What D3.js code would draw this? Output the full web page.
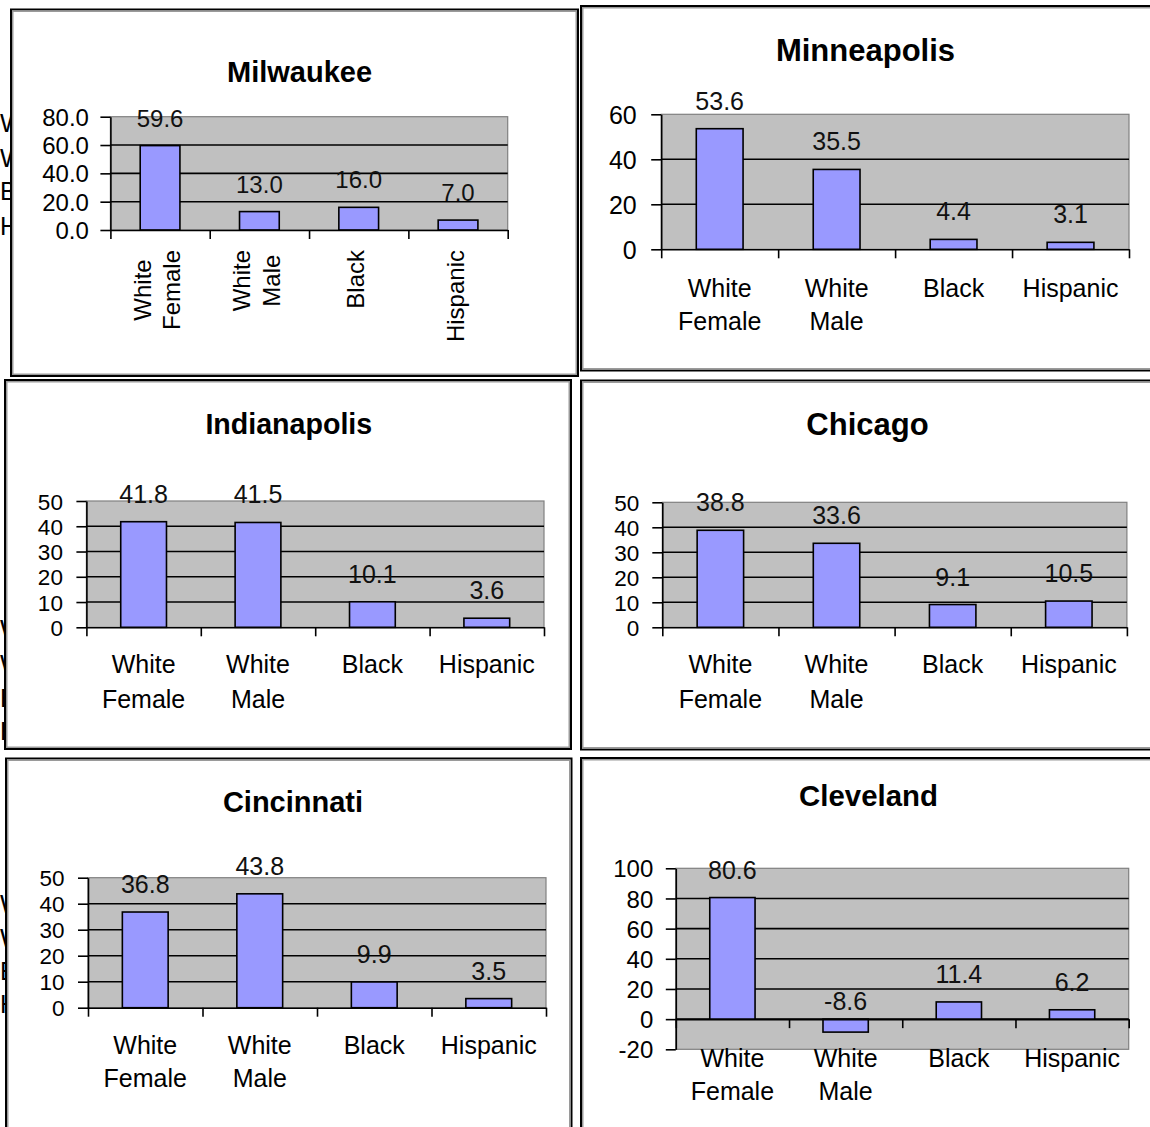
<!DOCTYPE html>
<html><head><meta charset="utf-8">
<script src="https://cdn.jsdelivr.net/npm/d3@7"></script>
<style>
body{margin:0;background:#fff;}
svg{display:block;font-family:Arial,"Liberation Sans",sans-serif;}
</style></head><body>
<svg id="chart" width="1150" height="1127"></svg>
<script>
// ---------------- data ----------------
const cities = ["Milwaukee","Minneapolis","Indianapolis","Chicago","Cincinnati","Cleveland"];
const categories = ["White Female","White Male","Black","Hispanic"];

const milwaukeeValues    = [59.6, 13.0, 16.0, 7.0];
const minneapolisValues  = [53.6, 35.5, 4.4, 3.1];
const indianapolisValues = [41.8, 41.5, 10.1, 3.6];
const chicagoValues      = [38.8, 33.6, 9.1, 10.5];
const cincinnatiValues   = [36.8, 43.8, 9.9, 3.5];
const clevelandValues    = [80.6, -8.6, 11.4, 6.2];

const milwaukeeTicks    = [0, 20, 40, 60, 80];
const minneapolisTicks  = [0, 20, 40, 60];
const indianapolisTicks = [0, 10, 20, 30, 40, 50];
const chicagoTicks      = [0, 10, 20, 30, 40, 50];
const cincinnatiTicks   = [0, 10, 20, 30, 40, 50];
const clevelandTicks    = [-20, 0, 20, 40, 60, 80, 100];
const tickDecimals      = [1, 0, 0, 0, 0, 0];

const valueSets = [milwaukeeValues, minneapolisValues, indianapolisValues, chicagoValues, cincinnatiValues, clevelandValues];
const tickSets  = [milwaukeeTicks, minneapolisTicks, indianapolisTicks, chicagoTicks, cincinnatiTicks, clevelandTicks];

// ---------------- layout (positions / sizes) ----------------
const layout = [
  {frame:[10,8.5,579,377],   plot:[110.4,116.7,507.7,230],  title:[299.5,81.7,29], font:24, tickFont:24, tickPad:11.5, rotate:true, rotTop:250, lineH:29.5},
  {frame:[580,5,1156,371.5], plot:[661.2,114.3,1129,249.3], title:[865.5,60.7,31], font:25, tickFont:25, tickPad:14.5, labelBase:297,  lineH:33.3},
  {frame:[4,379,572,750],    plot:[86.4,501,544,627.3],     title:[288.8,434.3,28.6], font:25, tickFont:22.5, tickPad:13.5, labelBase:673,  lineH:34.5},
  {frame:[580,379.5,1156,750.5], plot:[662.3,502.3,1126.9,627.3], title:[867.5,435,31], font:25, tickFont:22.5, tickPad:13, labelBase:673, lineH:35},
  {frame:[5,757.5,572.5,1136], plot:[88,877.7,546,1007.7],  title:[293,811.7,29], font:25, tickFont:22.5, tickPad:13.5, labelBase:1054, lineH:33.3},
  {frame:[580,757,1156,1136],  plot:[675.8,868.3,1128.7,1049.3], title:[868.5,806,29.4], font:25, tickFont:24, tickPad:12.5, labelBase:1066.7, lineH:33.3}
];
// partially hidden table text behind the left-hand panels (only first glyph peeks out)
const hiddenRowBaselines = [[132,167,200,235],[638,673,707,740],[913,947,980,1013]];

const svg = d3.select("#chart");
const fmt = dec => v => v.toFixed(dec);

hiddenRowBaselines.forEach(ys => {
  svg.append("g").selectAll("text").data(categories).enter().append("text")
    .attr("x", 0).attr("y", (d,i) => ys[i]).attr("font-size", 25).attr("fill", "#000")
    .text(d => d.charAt(0));
});

layout.forEach((L, k) => {
  const g = svg.append("g");
  const [fx0, fy0, fx1, fy1] = L.frame;
  g.append("rect").attr("x", fx0 + 1).attr("y", fy0 + 1)
    .attr("width", fx1 - fx0 - 2).attr("height", fy1 - fy0 - 2)
    .attr("fill", "#fff").attr("stroke", "#000").attr("stroke-width", 2);
  g.append("rect").attr("x", fx0 + 2.75).attr("y", fy0 + 2.75)
    .attr("width", fx1 - fx0 - 5.5).attr("height", fy1 - fy0 - 5.5)
    .attr("fill", "none").attr("stroke", "#9a9a9a").attr("stroke-width", 1.5);

  const [px0, py0, px1, py1] = L.plot;
  const ticks = tickSets[k], vals = valueSets[k];
  const y = d3.scaleLinear().domain(d3.extent(ticks)).range([py1, py0]);
  const xb = d3.scaleBand().domain(categories).range([px0, px1]);
  const xbar = d3.scaleBand().domain(categories).range([px0, px1]).paddingInner(0.6).paddingOuter(0.3);
  const xi = d3.scaleLinear().domain([0, categories.length]).range([px0, px1]);

  // plot area
  g.append("rect").attr("x", px0).attr("y", py0).attr("width", px1 - px0).attr("height", py1 - py0)
    .attr("fill", "#c0c0c0").attr("stroke", "#808080").attr("stroke-width", 1.2);

  // gridlines
  g.append("g").selectAll("line")
    .data(ticks.filter(t => t !== ticks[0] && t !== ticks[ticks.length - 1]))
    .enter().append("line")
    .attr("x1", px0).attr("x2", px1).attr("y1", d => y(d)).attr("y2", d => y(d))
    .attr("stroke", "#000").attr("stroke-width", 1.6);

  // bars
  g.append("g").selectAll("rect").data(vals).enter().append("rect")
    .attr("x", (d, i) => xbar(categories[i]))
    .attr("y", d => y(Math.max(0, d)))
    .attr("width", xbar.bandwidth())
    .attr("height", d => Math.abs(y(d) - y(0)))
    .attr("fill", "#9999ff").attr("stroke", "#000").attr("stroke-width", 1.6);

  // y axis
  const yg = g.append("g").attr("transform", `translate(${px0},0)`)
    .call(d3.axisLeft(y).tickValues(ticks).tickSize(10).tickSizeOuter(0)
      .tickPadding(L.tickPad).tickFormat(fmt(tickDecimals[k])));
  yg.attr("font-family", null).attr("font-size", null);
  yg.select(".domain").attr("stroke", "#000").attr("stroke-width", 1.6);
  yg.selectAll(".tick line").attr("stroke", "#000").attr("stroke-width", 1.6);
  yg.selectAll(".tick text").attr("font-size", L.tickFont).attr("fill", "#000").attr("dy", "0.36em");

  // x axis at zero with tick marks on category boundaries
  const xg = g.append("g").attr("transform", `translate(0,${y(0)})`)
    .call(d3.axisBottom(xi).tickValues(d3.range(categories.length + 1)).tickSize(9).tickSizeOuter(0).tickFormat(""));
  xg.select(".domain").attr("stroke", "#000").attr("stroke-width", 1.6);
  xg.selectAll(".tick line").attr("stroke", "#000").attr("stroke-width", 1.6);

  // category labels
  categories.forEach((c, i) => {
    const cx = xb(c) + xb.bandwidth() / 2;
    const lines = c.split(" ");
    const n = lines.length;
    if (L.rotate) {
      const texts = lines.map(t => g.append("text").attr("font-size", L.font).attr("fill", "#000")
        .attr("text-anchor", "middle").text(t));
      const maxLen = d3.max(texts, t => t.node().getComputedTextLength());
      texts.forEach((t, j) => {
        const bx = cx + 5.5 + (j - (n - 1) / 2) * L.lineH;
        t.attr("transform", `translate(${bx},${L.rotTop + maxLen / 2}) rotate(-90)`);
      });
    } else {
      lines.forEach((t, j) => {
        g.append("text").attr("x", cx).attr("y", L.labelBase + j * L.lineH)
          .attr("font-size", L.font).attr("fill", "#000").attr("text-anchor", "middle").text(t);
      });
    }
  });

  // data labels
  g.append("g").selectAll("text").data(vals).enter().append("text")
    .attr("x", (d, i) => xbar(categories[i]) + xbar.bandwidth() / 2)
    .attr("y", d => d >= 0 ? y(d) - 19 : y(0) - 9)
    .attr("text-anchor", "middle").attr("font-size", L.font).attr("fill", "#111")
    .text(d => d.toFixed(1));

  // title
  g.append("text").attr("x", L.title[0]).attr("y", L.title[1])
    .attr("text-anchor", "middle").attr("font-size", L.title[2]).attr("font-weight", "bold")
    .attr("fill", "#000").text(cities[k]);
});
</script>
</body></html>
